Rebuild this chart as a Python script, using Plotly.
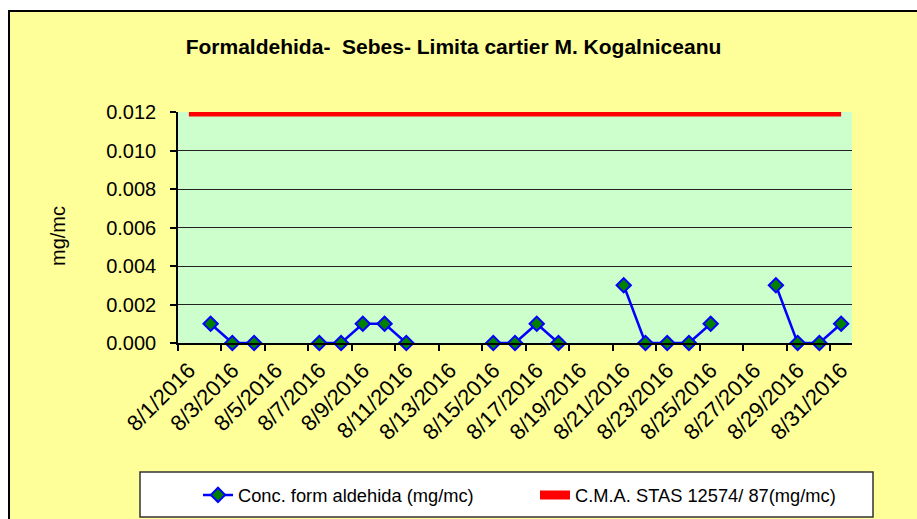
import plotly.graph_objects as go

# ---- data ----
days = [f"2016-08-{d:02d}" for d in range(1, 32)]
conc = [None, 0.001, 0.0, 0.0, None, None, 0.0, 0.0, 0.001, 0.001,
        0.0, None, None, None, 0.0, 0.0, 0.001, 0.0, None, None,
        0.003, 0.0, 0.0, 0.0, 0.001, None, None, 0.003, 0.0, 0.0, 0.001]
cma = [0.012] * 31
label_days = [f"2016-08-{d:02d}" for d in range(1, 32, 2)]
label_text = [f"8/{d}/2016" for d in range(1, 32, 2)]
boundary_ticks = ["2016-07-31 12:00" if d == 1 else f"2016-08-{d-1:02d} 12:00" for d in range(1, 32, 2)]
y_ticks = [0.0, 0.002, 0.004, 0.006, 0.008, 0.010, 0.012]

title_text = "Formaldehida-  Sebes- Limita cartier M. Kogalniceanu"
name_conc = "Conc. form aldehida (mg/mc)"
name_cma = "C.M.A. STAS 12574/ 87(mg/mc)"
y_title = "mg/mc"

FONT = "Liberation Sans, Arial, sans-serif"
W, H = 917, 519

# pixel layout helpers
L, R, T, B = 178, 852, 112, 343
def xp(px):
    return (px - L) / (R - L)
def yp(py):
    return (B - py) / (B - T)

fig = go.Figure()
fig.add_trace(go.Scatter(
    x=days, y=conc, name=name_conc, mode="lines+markers",
    connectgaps=False, cliponaxis=False,
    line=dict(color="#0000FF", width=2.5),
    marker=dict(symbol="diamond", size=11, color="#008000",
                line=dict(color="#0000FF", width=2)),
))
fig.add_trace(go.Scatter(
    x=days, y=cma, name=name_cma, mode="lines",
    line=dict(color="#FF0000", width=9),
))
# dummy trace on overlay axis for boundary tick marks
fig.add_trace(go.Scatter(x=[days[0]], y=[None], xaxis="x2", showlegend=False,
                         hoverinfo="skip", mode="lines"))

xrange = ["2016-07-31 12:00", "2016-08-31 12:00"]

fig.update_layout(
    width=W, height=H,
    margin=dict(l=L, r=W - R, t=T, b=H - B, autoexpand=False),
    paper_bgcolor="white",
    plot_bgcolor="rgba(0,0,0,0)",
    font=dict(family=FONT, size=20, color="black"),
    title=dict(text=f"<b>{title_text}</b>", xref="container", yref="container",
               x=453.5 / W, y=1 - 47 / H, xanchor="center", yanchor="middle",
               font=dict(family=FONT, size=21, color="black")),
    xaxis=dict(type="date", range=xrange, tickmode="array", tickvals=label_days,
               ticktext=label_text, tickangle=-45, ticks="", showgrid=False,
               showline=True, linecolor="black", linewidth=1.5, automargin=False,
               ticklabelstandoff=4,
               tickfont=dict(family=FONT, size=22, color="black"), zeroline=False),
    xaxis2=dict(type="date", range=xrange, overlaying="x", anchor="y",
                tickmode="array", tickvals=boundary_ticks, ticks="outside",
                ticklen=7, tickcolor="black", tickwidth=1.5, automargin=False,
                showticklabels=False, showgrid=False, showline=False, side="bottom"),
    yaxis=dict(range=[0, 0.012], tickmode="array", tickvals=y_ticks,
               tickformat=".3f", ticks="outside", ticklen=6, tickcolor="black",
               tickwidth=1.5, showline=True, linecolor="black", linewidth=1.5,
               showgrid=True, gridcolor="#222222", gridwidth=1, zeroline=False,
               automargin=False, ticklabelstandoff=10,
               tickfont=dict(family=FONT, size=20, color="black")),
    showlegend=True,
    legend=dict(orientation="h", xref="paper", yref="paper",
                x=xp(872), xanchor="right", y=yp(495), yanchor="middle",
                bgcolor="rgba(0,0,0,0)", borderwidth=0, entrywidth=292,
                font=dict(family=FONT, size=18.3, color="black")),
    annotations=[dict(text=y_title, textangle=-90, xref="paper", yref="paper",
                      x=xp(58), y=yp(236), xanchor="center", yanchor="middle",
                      showarrow=False,
                      font=dict(family=FONT, size=20, color="black"))],
    shapes=[
        # chart area (yellow) with black border
        dict(type="rect", xref="paper", yref="paper", layer="below",
             x0=xp(9), x1=xp(940), y0=yp(540), y1=yp(11),
             fillcolor="#FFFF99", line=dict(color="black", width=2)),
        # plot area (green)
        dict(type="rect", xref="paper", yref="paper", layer="below",
             x0=0, x1=1, y0=0, y1=1, fillcolor="#CCFFCC", line=dict(width=0)),
        # legend box
        dict(type="rect", xref="paper", yref="paper", layer="above",
             x0=xp(140), x1=xp(873), y0=yp(517), y1=yp(472),
             fillcolor="white", line=dict(color="#333333", width=1.5)),
    ],
)

fig.write_html("out.html", config={"displayModeBar": False},
               post_script="document.body.style.margin='0';")
